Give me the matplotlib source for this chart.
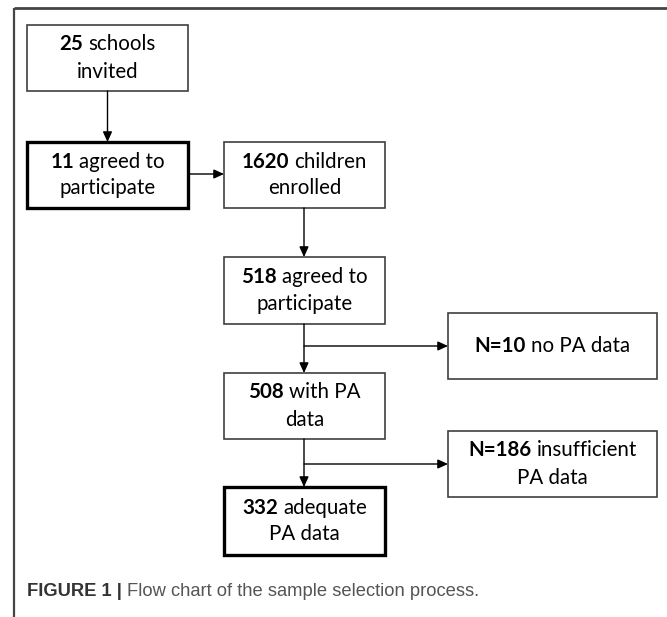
import matplotlib
matplotlib.use('Agg')
import matplotlib.pyplot as plt
from matplotlib.patches import Rectangle

W, H = 667, 617

# box contents: each line is (bold part, regular part)
box_lines = [
    [("25", "schools"), ("", "invited")],
    [("11", "agreed to"), ("", "participate")],
    [("1620", "children"), ("", "enrolled")],
    [("518", "agreed to"), ("", "participate")],
    [("508", "with PA"), ("", "data")],
    [("N=10", "no PA data")],
    [("332", "adequate"), ("", "PA data")],
    [("N=186", "insufficient"), ("", "PA data")],
]
# x0, x1, y0, y1 in pixels
box_rects = [
    (27, 188, 25, 91),
    (27, 188, 142, 208),
    (224, 385, 142, 208),
    (224, 385, 257, 324),
    (224, 385, 373, 439),
    (448, 657, 313, 379),
    (224, 385, 487, 555),
    (448, 657, 431, 497),
]
thick = [False, True, False, False, False, False, True, False]

caption_bold = "FIGURE 1 |"
caption_text = "Flow chart of the sample selection process."

box_font = 'Lato'
box_size = 14.8
line_gap = 27

fig = plt.figure(figsize=(W / 100, H / 100), dpi=100)
ax = fig.add_axes([0, 0, 1, 1])
ax.set_xlim(0, W)
ax.set_ylim(H, 0)
ax.axis('off')

# outer frame (top and left)
ax.plot([14, W], [8, 8], color='#454545', lw=2, solid_capstyle='butt')
ax.plot([14, 14], [8, H], color='#454545', lw=1.6, solid_capstyle='butt')

renderer = fig.canvas.get_renderer()


def width_px(t):
    return t.get_window_extent(renderer=renderer).width


def draw_line(cx, cy, bold, reg, size=box_size, font=box_font, gap=5, color='black',
              bold_color=None):
    parts = []
    if bold:
        parts.append(ax.text(0, cy, bold, fontsize=size, family=font, weight='bold',
                             va='center', ha='left', color=bold_color or color))
    if reg:
        parts.append(ax.text(0, cy, reg, fontsize=size, family=font,
                             va='center', ha='left', color=color))
    widths = [width_px(p) for p in parts]
    total = sum(widths) + gap * (len(parts) - 1)
    x = cx - total / 2
    for p, w in zip(parts, widths):
        p.set_x(x)
        x += w + gap
    return parts


for lines, (x0, x1, y0, y1), tk in zip(box_lines, box_rects, thick):
    ax.add_patch(Rectangle((x0, y0), x1 - x0, y1 - y0, fill=False,
                           edgecolor='black' if tk else '#404040',
                           lw=2.4 if tk else 1.2))
    cx = (x0 + x1) / 2
    cy = (y0 + y1) / 2
    n = len(lines)
    for i, (b, r) in enumerate(lines):
        y = cy + (i - (n - 1) / 2) * line_gap
        draw_line(cx, y, b, r)


def arrow(x0, y0, x1, y1):
    ax.annotate('', xy=(x1, y1), xytext=(x0, y0),
                arrowprops=dict(arrowstyle='-|>,head_length=0.55,head_width=0.25',
                                color='black', lw=1.0, shrinkA=0, shrinkB=0,
                                mutation_scale=11))


def center_bottom(i):
    x0, x1, y0, y1 = box_rects[i]
    return (x0 + x1) / 2, y1


def center_top(i):
    x0, x1, y0, y1 = box_rects[i]
    return (x0 + x1) / 2, y0


# vertical links
arrow(*center_bottom(0), *center_top(1))
arrow(188, 174, 224, 174)
for a, b in [(2, 3), (3, 4), (4, 6)]:
    arrow(304, box_rects[a][3], 304, box_rects[b][2])
# side branches
arrow(304, 346, 448, 346)
arrow(304, 464, 448, 464)

# caption
cap = draw_line(0, 592, caption_bold, caption_text, size=13.2, font='Liberation Sans',
                gap=5, color='#555555', bold_color='#333333')
shift = 27 - cap[0].get_position()[0]
for t in cap:
    t.set_x(t.get_position()[0] + shift)

fig.savefig('out.png', dpi=100)
